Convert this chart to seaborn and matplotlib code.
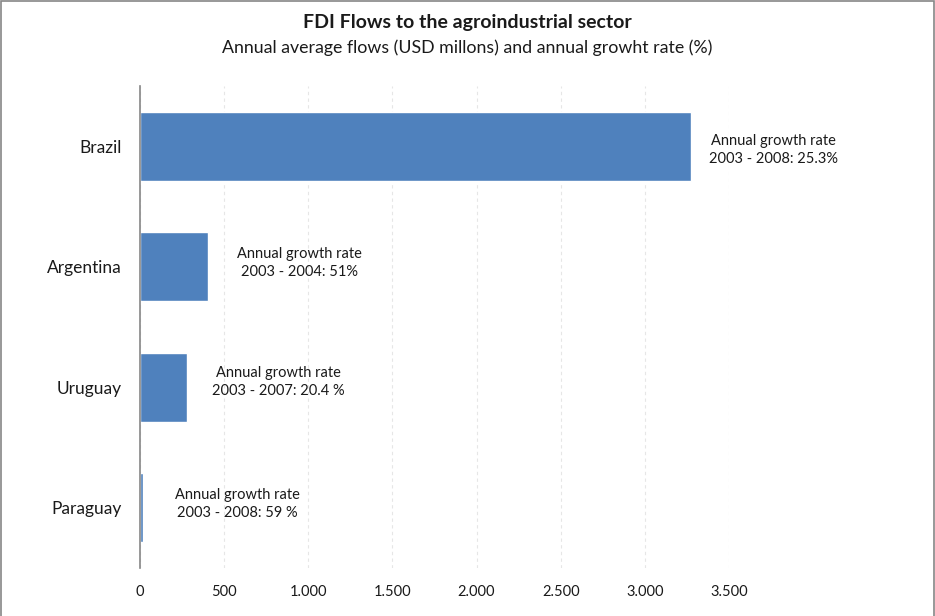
import matplotlib
matplotlib.use("Agg")
import matplotlib.pyplot as plt
from matplotlib.patches import Rectangle
from matplotlib.ticker import FuncFormatter, MultipleLocator
import seaborn as sns
import pandas as pd

# Average annual FDI flows (USD millions)
countries = ["Brazil", "Argentina", "Uruguay", "Paraguay"]
flows = [3272, 405, 280, 16]
growth_labels = [
    "Annual growth rate\n2003 - 2008: 25.3%",
    "Annual growth rate\n2003 - 2004: 51%",
    "Annual growth rate\n2003 - 2007: 20.4 %",
    "Annual growth rate\n2003 - 2008: 59 %",
]

title = "FDI Flows to the agroindustrial sector"
subtitle = "Annual average flows (USD millons) and annual growht rate (%)"

# placement of each annotation relative to its bar end (points)
label_offsets = [(13.5, -2.5), (21, 2.5), (18, 3.5), (23, 2.5)]

df = pd.DataFrame({"country": countries, "flow": flows})

sns.set_theme(style="white")
plt.rcParams["font.family"] = ["Lato", "DejaVu Sans"]

fig = plt.figure(figsize=(9.35, 6.16), dpi=100)
ax = fig.add_axes([0.1497, 0.0779, 0.63, 0.7825])

sns.barplot(data=df, y="country", x="flow", color="#4F81BD", saturation=1,
            width=0.57, orient="h", ax=ax, zorder=3)

ax.set_xlim(0, 3500)
ax.xaxis.set_major_locator(MultipleLocator(500))
ax.xaxis.set_major_formatter(FuncFormatter(lambda v, p: f"{int(v):,}".replace(",", ".")))
ax.set_xlabel("")
ax.set_ylabel("")

# faint dashed vertical gridlines
ax.grid(axis="x", color="#e6e6e6", linestyle=(0, (3, 3)), linewidth=0.8, zorder=0)
ax.grid(axis="y", visible=False)

for s in ["top", "right", "bottom"]:
    ax.spines[s].set_visible(False)
ax.spines["left"].set_color("#868686")
ax.spines["left"].set_linewidth(1.2)
ax.spines["left"].set_zorder(4)

ax.tick_params(axis="y", length=0, pad=13, labelsize=12.5, labelcolor="#1a1a1a")
ax.tick_params(axis="x", length=0, pad=12, labelsize=10.5, labelcolor="#1a1a1a")

# growth-rate annotations to the right of each bar
for i, (v, lab, off) in enumerate(zip(flows, growth_labels, label_offsets)):
    ax.annotate(lab, xy=(v, i), xytext=off, textcoords="offset points",
                ha="left", va="center", multialignment="center",
                fontsize=10.5, color="#1a1a1a", linespacing=1.35,
                annotation_clip=False, clip_on=False)

fig.text(0.5, 0.963, title, ha="center", va="center", fontsize=14,
         fontweight="bold", color="#1a1a1a")
fig.text(0.5, 0.923, subtitle, ha="center", va="center", fontsize=12.8,
         color="#1a1a1a")

# chart border
fig.patches.append(Rectangle((0.0015, -0.05), 0.997, 1.048, transform=fig.transFigure,
                             fill=False, edgecolor="#868686", linewidth=1.2))

fig.savefig("out.png", dpi=100)
